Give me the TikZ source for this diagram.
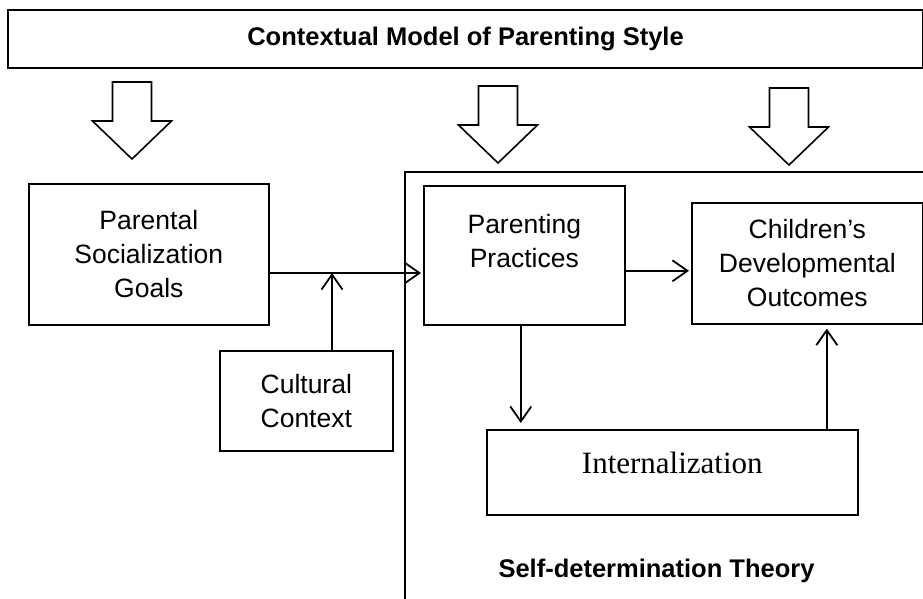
\documentclass[tikz,border=0pt]{standalone}
\usepackage{fontspec}
\setmainfont{Liberation Sans}
\newfontfamily\seriffont{Liberation Serif}
\usepackage{tikz}
\usetikzlibrary{arrows.meta,
                positioning
                }

\begin{document}
\begin{tikzpicture}[
    x=1pt, y=-1pt,
  box/.style = {draw, line width=1.6pt, anchor=north west, inner sep=0pt,
                align=center, font=\fontsize{26.5}{34}\selectfont},
  hdr/.style = {box, line width=2pt, font=\fontsize{25.5}{34}\selectfont\bfseries},
  lbl/.style = {anchor=base, inner sep=0pt, font=\fontsize{25.5}{34}\selectfont\bfseries},
  arr/.style = {line width=1.8pt, shorten >=2pt,
                -{Straight Barb[length=15pt,width=21pt,line width=1.8pt]}},
  blk/.style = {draw, fill=white, line width=1.6pt, line join=miter}
                    ]
\fill[white] (0,0) rectangle (923,598);
\useasboundingbox (0,0) rectangle (923,598);
% header and the three hollow arrows below it
\node (title) [hdr, minimum width=915, minimum height=58] at (7,9)
      {Contextual Model of Parenting Style};
\foreach \x/\t in {132/82, 498/86, 789/88}
    \draw[blk] ({\x-19.5},\t) -- ({\x+19.5},\t) -- ({\x+19.5},\t+39)
               -- ({\x+39.5},\t+39) -- (\x,\t+77) -- ({\x-39.5},\t+39)
               -- ({\x-19.5},\t+39) -- cycle;
% frame of the self-determination part
\draw[line width=1.6pt] (405,600) |- (925,172);
\node (sdt) [lbl] at (656.5,577) {Self-determination Theory};
% boxes
\node (psg)  [box, minimum width=240, minimum height=141] at (28,183)
      {Parental\\ Socialization\\ Goals};
\node (cc)   [box, minimum width=173, minimum height=100] at (219,350)
      {Cultural\\ Context};
\node (pp)   [box, minimum width=201, minimum height=139, text depth=28pt] at (423,185)
      {Parenting\\ Practices};
\node (cdo)  [box, minimum width=231, minimum height=121] at (691,202)
      {Children’s\\ Developmental\\ Outcomes};
\node (intz) [box, minimum width=371, minimum height=85, text depth=20pt,
              font=\fontsize{31}{36}\seriffont] at (486,429)
      {Internalization};
% connectors
\coordinate (join) at (332,273);
\draw[arr] (psg.east |- join) -- (pp.west |- join);
\draw[arr, shorten >=0pt] (cc.north -| join) -- (join);
\draw[arr] ([yshift=-15.5pt]pp.east) -- ([yshift=-15.5pt]pp.east -| cdo.west);
\draw[arr, shorten >=6pt] ([xshift=-3.5pt]pp.south) -- ([xshift=-3.5pt]pp.south |- intz.north);
\draw[arr, shorten >=4pt] ([xshift=19.5pt]cdo.south |- intz.north) -- ([xshift=19.5pt]cdo.south);
\end{tikzpicture}
\end{document}
